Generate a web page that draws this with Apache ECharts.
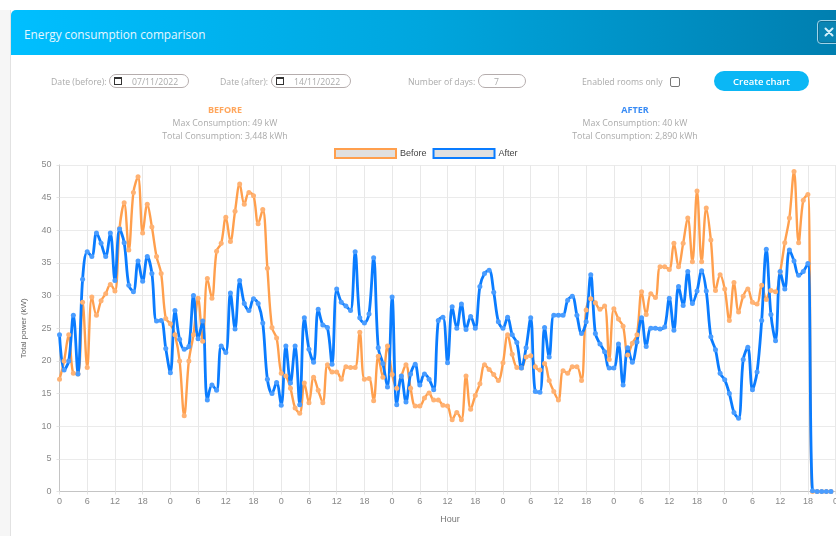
<!DOCTYPE html>
<html>
<head>
<meta charset="utf-8">
<title>Energy consumption comparison</title>
<script src="https://cdn.jsdelivr.net/npm/echarts@6/dist/echarts.min.js"></script>
<style>
  html, body { margin: 0; padding: 0; width: 836px; height: 536px; overflow: hidden; background: #fff; font-family: "Open Sans", sans-serif; }
  #page { position: absolute; left: 0; top: 0; width: 836px; height: 536px; overflow: hidden; filter: blur(0.35px); }
  .abs { position: absolute; white-space: nowrap; }
  #edge { position: absolute; left: 0; top: 10px; width: 10px; height: 526px; background: #f6f6f6; border-right: 1px solid #e2e2e2; }
  #header { position: absolute; left: 11px; top: 10px; width: 825px; height: 45px; border-radius: 5px 0 0 0; background: linear-gradient(90deg, #00bfff 0%, #00a6de 50%, #007fb0 100%); }
  #title { left: 24px; top: 25px; color: #e6f7ff; font-size: 11.8px; line-height: 18px; }
  #close { position: absolute; left: 817px; top: 20px; width: 24px; height: 22px; border: 1px solid #9fd3e8; border-radius: 4px; background: #0a85b4; box-shadow: inset 0 0 0 1px #0a6f96; }
  #close svg { position: absolute; left: 6px; top: 6px; }
  .lbl { color: #aaa; font-size: 8.7px; line-height: 14px; top: 75px; }
  .pill { position: absolute; top: 74px; height: 12px; border: 1px solid #b5adad; border-radius: 7px; color: #aaa; font-size: 8.7px; line-height: 14px; }
  .pill span { position: absolute; top: 0; }
  .cal { position: absolute; left: 4px; top: 2px; width: 6px; height: 5px; border: 1px solid #333; border-top-width: 2px; }
  #check { position: absolute; left: 670px; top: 77px; width: 8px; height: 8px; border: 1px solid #777; border-radius: 2px; }
  #create { position: absolute; left: 714px; top: 71px; width: 95px; height: 20px; border-radius: 10px; background: #0bb7f5; color: #fff; font-size: 9.5px; font-weight: 600; line-height: 21px; text-align: center; }
  .head { width: 300px; text-align: center; font-size: 9px; font-weight: 700; line-height: 13px; top: 103px; }
  .sub { width: 300px; text-align: center; color: #aaa; font-size: 8.8px; line-height: 13px; }
  #chart { position: absolute; left: 0; top: 0; width: 860px; height: 536px; }
</style>
</head>
<body>
<div id="page">
<div id="chart"></div>
<div id="edge"></div>
<div id="header"></div>
<div id="title" class="abs">Energy consumption comparison</div>
<div id="close"><svg width="10" height="10" viewBox="0 0 10 10"><path d="M1.5 1.5 L8.5 8.5 M8.5 1.5 L1.5 8.5" stroke="#d5f1fb" stroke-width="2" stroke-linecap="round" fill="none"/></svg></div>

<div class="abs lbl" style="left:51px">Date (before):</div>
<div class="pill" style="left:109px;width:78px"><i class="cal"></i><span style="left:22px">07/11/2022</span></div>
<div class="abs lbl" style="left:220px">Date (after):</div>
<div class="pill" style="left:271px;width:78px"><i class="cal"></i><span style="left:22px">14/11/2022</span></div>
<div class="abs lbl" style="left:408px">Number of days:</div>
<div class="pill" style="left:478px;width:46px"><span style="left:15px">7</span></div>
<div class="abs lbl" style="left:582px">Enabled rooms only</div>
<div id="check"></div>
<div id="create">Create chart</div>

<div class="abs head" style="left:75px;color:#ffa65c">BEFORE</div>
<div class="abs sub" style="left:75px;top:116.5px">Max Consumption: 49 kW</div>
<div class="abs sub" style="left:75px;top:129.5px">Total Consumption: 3,448 kWh</div>
<div class="abs head" style="left:485px;color:#3a8cf5">AFTER</div>
<div class="abs sub" style="left:485px;top:116.5px">Max Consumption: 40 kW</div>
<div class="abs sub" style="left:485px;top:129.5px">Total Consumption: 2,890 kWh</div>
</div>

<script>
var hours = [];
for (var h = 0; h <= 168; h++) {
  hours.push(String(h % 24));
}

// total power per hour
var before = [
  17.2, 20, 24, 18.1, 18, 29, 19, 29.8, 27, 29.2, 30.3, 31.7, 30.7, 40.3, 44.2, 37, 45.8, 48.2, 39.6, 44, 40.5, 36, 33.4, 26.5,
  25.7, 24, 20, 11.6, 20, 24, 29.6, 23, 32.6, 29.6, 36.8, 38, 42, 38.3, 42.9, 47.1, 44, 45.8, 45.3, 41, 43.2, 34.2, 25.1, 23.5,
  18.1, 17.7, 15.8, 12.8, 12, 16.6, 13.6, 17.5, 15.5, 13.6, 19.4, 18.3, 18.3, 17.2, 19.1, 19, 19, 24.4, 17.2, 17.3, 13.9, 20.7, 17.5, 22.3,
  17.9, 15.8, 17.7, 19.4, 15.8, 13.1, 13.1, 14.3, 15.1, 14, 14, 13.2, 13.1, 11, 12.1, 11, 17.7, 12.6, 14.7, 16.5, 19.4, 18.7, 17.9, 17,
  19.7, 24, 21, 19, 18.9, 20.6, 20.8, 19.1, 18.6, 19.6, 17, 15.3, 14, 18.5, 18.1, 19.1, 19.1, 17, 27.8, 29.5, 28.9, 27.9, 28.4, 20.2,
  28, 26.4, 25.3, 20.9, 22.7, 24, 30.6, 27.1, 30.3, 29.7, 34.4, 34.4, 34, 38, 34.4, 38, 41.9, 35.2, 46, 35.2, 43.4, 38.5, 30.8, 33.2,
  31, 26.2, 32, 27.5, 29.9, 31, 29, 28.7, 31.6, 29.4, 30.8, 30.6, 33.6, 38.1, 41.9, 49, 38.1, 44.6, 45.5, 0, 0, 0, 0, 0
];
var after = [
  24, 18.6, 20, 27, 18, 32.5, 36.7, 36, 39.6, 38, 36, 39.6, 32.3, 40.2, 38.1, 31.6, 30.6, 35.3, 32.2, 36, 33.4, 26.1, 26.2, 21.9,
  18.2, 27.7, 23.3, 21.8, 22.2, 30, 23.4, 26.1, 14, 16.3, 15.5, 22.3, 21.3, 30.4, 24.9, 32.3, 28.8, 27.7, 29.5, 28.8, 25.8, 17.2, 15, 16.7,
  13.2, 22.3, 16.6, 22.3, 13.3, 26.6, 21.8, 19.8, 27.9, 25.5, 25.1, 19.5, 31, 29, 28.4, 27.7, 36.7, 26.6, 25.8, 27.2, 35.8, 22, 19.6, 16,
  29.8, 13.3, 17.7, 13.7, 18, 19.5, 16.3, 18, 17.2, 15.6, 26.2, 26.7, 19.7, 28.3, 25, 28.7, 24.8, 26.8, 25, 31.4, 33.4, 33.9, 30.5, 26,
  25, 26.7, 24, 22.8, 18.9, 22, 26.6, 15.3, 15.2, 25.1, 20.6, 27, 27, 27, 29.3, 29.9, 27, 24.2, 26, 33.2, 24.2, 22.6, 21.4, 18.9,
  18.9, 22.6, 16.3, 22, 19.8, 22.9, 26.6, 22.2, 25, 25, 24.9, 25.2, 29.6, 24.7, 31.4, 28.5, 33.7, 28.8, 30.7, 33.8, 30.7, 23.7, 21.7, 18.1,
  17.1, 15, 12.1, 11.2, 20.2, 22.1, 15.6, 18.3, 26.2, 37.1, 27.1, 23.1, 33.7, 31, 37, 35.3, 33.1, 33.7, 34.9, 0.1, 0, 0, 0, 0
];
var seriesNames = ["Before", "After"];
var lineColors = ["#ff9f4d", "#0a7cff"];
var pointColors = ["#ffb273", "#4a9dff"];

var chart = echarts.init(document.getElementById("chart"));
chart.setOption({
  animation: false,
  textStyle: { fontFamily: "Liberation Sans" },
  legend: {
    left: 334,
    top: 148,
    padding: 0,
    icon: "rect",
    itemWidth: 61,
    itemHeight: 9,
    itemGap: 6,
    textStyle: { color: "#444", fontSize: 9, padding: [0, 0, 0, -1] },
    data: [
      { name: seriesNames[0], itemStyle: { borderColor: lineColors[0], color: "#e0e0e0", borderWidth: 2 } },
      { name: seriesNames[1], itemStyle: { borderColor: lineColors[1], color: "#e0e0e0", borderWidth: 2 } }
    ]
  },
  grid: { left: 59.5, right: 24.4, top: 165, bottom: 44.5 },
  xAxis: {
    type: "category",
    boundaryGap: false,
    data: hours,
    name: "Hour",
    nameLocation: "middle",
    nameGap: 24,
    nameTextStyle: { color: "#777", fontSize: 9, padding: [0, 0, 0, 5] },
    axisLine: { lineStyle: { color: "#c4c4c4" } },
    axisTick: { interval: 5, length: 3, lineStyle: { color: "#e4e4e4" } },
    axisLabel: { interval: 5, color: "#888", fontSize: 9, margin: 6, hideOverlap: false },
    splitLine: { show: true, interval: 5, lineStyle: { color: "#e8e8e8" } }
  },
  yAxis: {
    type: "value",
    min: 0,
    max: 50,
    interval: 5,
    name: "Total power (kW)",
    nameLocation: "middle",
    nameGap: 32,
    nameTextStyle: { color: "#666", fontSize: 8 },
    axisLine: { show: true, lineStyle: { color: "#c4c4c4" } },
    axisTick: { show: true, length: 3, lineStyle: { color: "#e4e4e4" } },
    axisLabel: { color: "#888", fontSize: 9, margin: 8 },
    splitLine: { lineStyle: { color: "#ebebeb" } }
  },
  series: [
    {
      name: seriesNames[0],
      type: "line",
      data: before,
      smooth: 0.35,
      symbol: "circle",
      symbolSize: 5,
      showAllSymbol: true,
      clip: false,
      lineStyle: { color: lineColors[0], width: 2.4 },
      itemStyle: { color: pointColors[0] }
    },
    {
      name: seriesNames[1],
      type: "line",
      data: after,
      smooth: 0.35,
      symbol: "circle",
      symbolSize: 5,
      showAllSymbol: true,
      clip: false,
      lineStyle: { color: lineColors[1], width: 2.8 },
      itemStyle: { color: pointColors[1] }
    }
  ]
});
</script>
</body>
</html>
